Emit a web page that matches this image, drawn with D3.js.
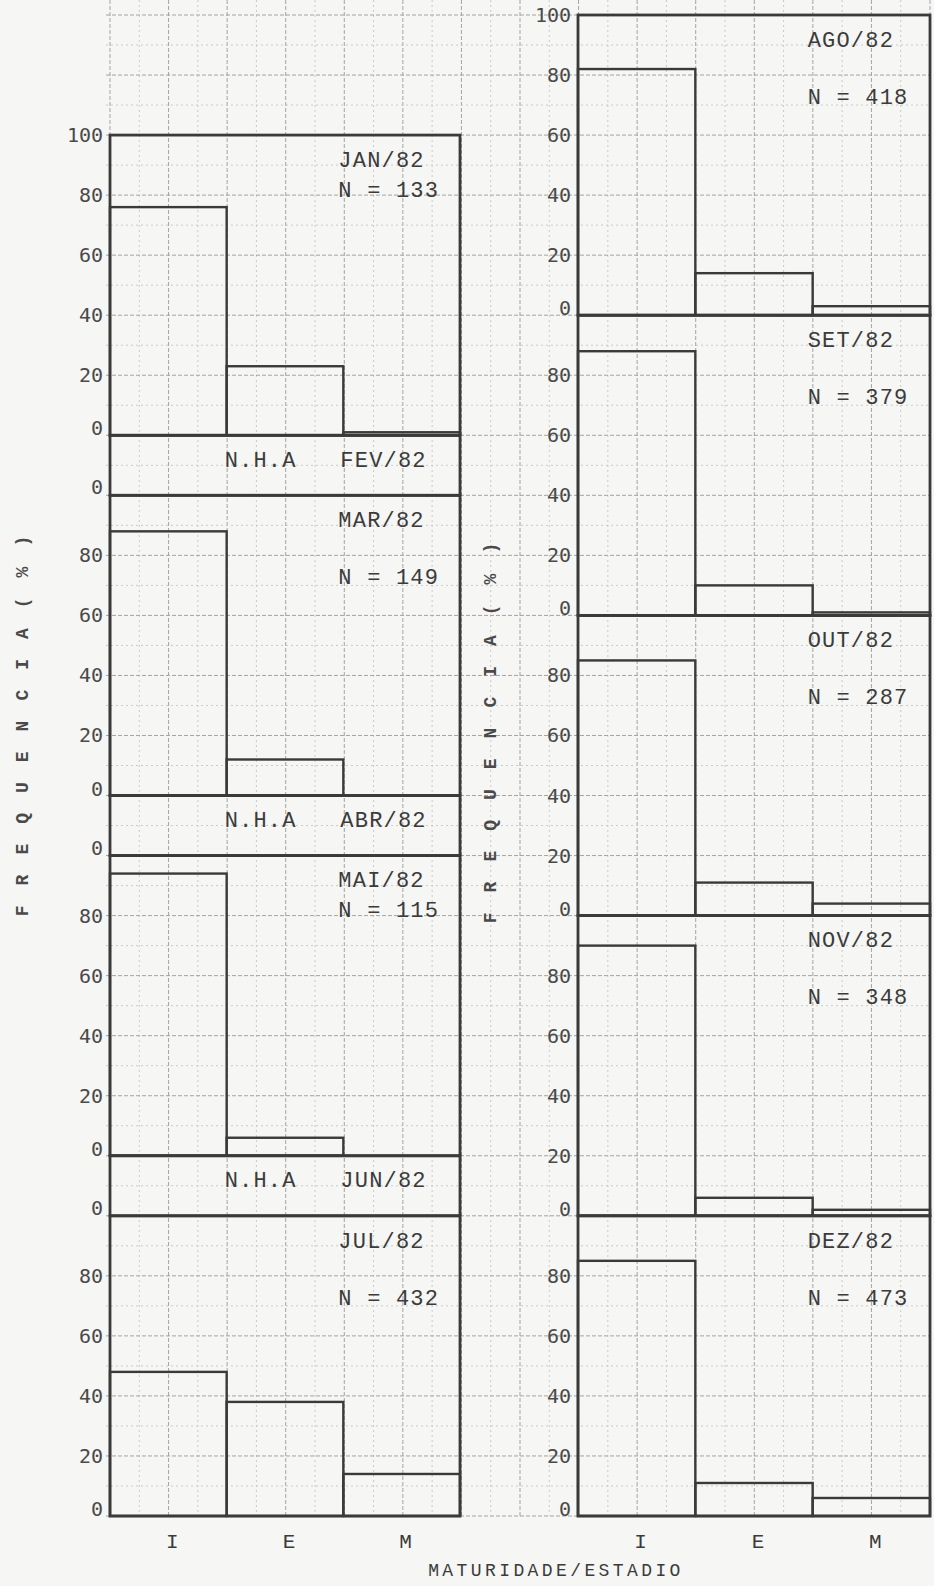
<!DOCTYPE html>
<html>
<head>
<meta charset="utf-8">
<script src="https://cdn.jsdelivr.net/npm/d3@7"></script>
<style>
  body { margin: 0; background: #f6f6f4; }
  svg { display: block; }
  text { font-family: "Liberation Mono", "DejaVu Sans Mono", monospace; fill: #3b3b3b; }
</style>
</head>
<body>
<svg id="chart"></svg>
<script>
// Frequencia (%) dos estadios de maturidade por mes, 1982
const months = ["JAN/82", "FEV/82", "MAR/82", "ABR/82", "MAI/82", "JUN/82",
                "JUL/82", "AGO/82", "SET/82", "OUT/82", "NOV/82", "DEZ/82"];
const nSample = [133, null, 149, null, 115, null, 432, 418, 379, 287, 348, 473];
const stageI  = [76, null, 88, null, 94, null, 48, 82, 88, 85, 90, 85];
const stageE  = [23, null, 12, null,  6, null, 38, 14, 10, 11,  6, 11];
const stageM  = [ 1, null,  0, null,  0, null, 14,  3,  1,  4,  2,  6];
const stages  = ["I", "E", "M"];
const yTicks  = [0, 20, 40, 60, 80, 100];
const noSample = "N.H.A";
const yTitle = "FREQUENCIA(%)";
const xTitle = "MATURIDADE/ESTADIO";
// months whose N label sits closer to the title
const tightLabel = ["JAN/82", "MAI/82"];

const series = [stageI, stageE, stageM];

let width = 934;
let height = 1586;
let ink = '#3a3a3a';

let svg = d3.select('#chart')
    .attr('width', width)
    .attr('height', height);

// the whole sheet is 500 "units" tall, 3px each
let page = d3.scaleLinear().domain([0, 500]).range([15, 1516]);
let colX = [[110, 460], [578, 930]];
let columns = [months.slice(0, 7), months.slice(7)];

// graph paper behind the charts
let paperX = d3.scaleLinear().domain([0, 28]).range([110, 930]);
let paper = svg.append('g').attr('class', 'paper');

paper.selectAll('line.v')
    .data(d3.range(0, 29))
  .enter().append('line')
    .attr('class', 'v')
    .attr('x1', d => paperX(d)).attr('x2', d => paperX(d))
    .attr('y1', 0).attr('y2', page(500))
    .style('stroke', d => d % 2 === 0 ? '#a4a4a4' : '#cacaca')
    .style('stroke-dasharray', d => d % 2 === 0 ? '4,2' : '2,3')
    .style('stroke-width', '1px');

paper.selectAll('line.h')
    .data(d3.range(0, 51))
  .enter().append('line')
    .attr('class', 'h')
    .attr('x1', 106).attr('x2', 930)
    .attr('y1', d => page(d * 10)).attr('y2', d => page(d * 10))
    .style('stroke', d => d % 2 === 0 ? '#a4a4a4' : '#cacaca')
    .style('stroke-dasharray', d => d % 2 === 0 ? '4,2' : '2,3')
    .style('stroke-width', '1px');

columns.forEach((col, c) => {
  let x = d3.scaleBand()
      .domain(stages)
      .range(colX[c]);

  let heights = col.map(m => nSample[months.indexOf(m)] == null ? 20 : 100);
  let offset = 500 - d3.sum(heights);

  col.forEach((m, k) => {
    let idx = months.indexOf(m);
    let h = heights[k];
    let top = page(offset);
    let bottom = page(offset + h);
    let g = svg.append('g').attr('class', 'panel');

    if (nSample[idx] == null) {
      // month without sampling
      g.append('text')
          .attr('x', x('E') - 2)
          .attr('y', (top + bottom) / 2 - 6)
          .attr('dy', '0.35em')
          .style('font-size', '22px')
          .style('letter-spacing', '1.2px')
          .text(noSample);

      g.append('text')
          .attr('x', x('M') - 3)
          .attr('y', (top + bottom) / 2 - 6)
          .attr('dy', '0.35em')
          .style('font-size', '22px')
          .style('letter-spacing', '1.2px')
          .text(m);

      g.append('text')
          .attr('x', colX[c][0] - 7)
          .attr('y', bottom - 8)
          .attr('dy', '0.35em')
          .attr('text-anchor', 'end')
          .style('font-family', '"DejaVu Sans Mono", monospace')
          .style('font-size', '20px')
          .style('fill', '#4a4a4a')
          .text('0');
    } else {
      let y = d3.scaleLinear()
          .domain([0, 100])
          .range([bottom, top]);

      let bars = stages.map((s, j) => ({ stage: s, value: series[j][idx] }));

      g.selectAll('rect.bar')
          .data(bars)
        .enter().append('rect')
          .attr('class', 'bar')
          .attr('x', d => x(d.stage))
          .attr('width', x.bandwidth())
          .attr('y', d => y(d.value))
          .attr('height', d => y(0) - y(d.value))
          .style('fill', 'none')
          .style('stroke', ink)
          .style('stroke-width', '2.4px');

      let ticks = k === 0 ? yTicks : yTicks.filter(t => t < 100);

      g.selectAll('text.tick')
          .data(ticks)
        .enter().append('text')
          .attr('class', 'tick')
          .attr('x', colX[c][0] - 7)
          .attr('y', d => y(d) - (d === 0 ? 7 : 0))
          .attr('dy', '0.35em')
          .attr('text-anchor', 'end')
          .style('font-family', '"DejaVu Sans Mono", monospace')
          .style('font-size', '20px')
          .style('fill', '#4a4a4a')
          .text(d => d);

      g.append('text')
          .attr('x', x('M') - 5)
          .attr('y', y(92))
          .attr('dy', '0.35em')
          .style('font-size', '22px')
          .style('letter-spacing', '1.2px')
          .text(m);

      g.append('text')
          .attr('x', x('M') - 5)
          .attr('y', y(tightLabel.includes(m) ? 82 : 73))
          .attr('dy', '0.35em')
          .style('font-size', '22px')
          .style('letter-spacing', '1.2px')
          .text(`N = ${nSample[idx]}`);
    }

    g.append('rect')
        .attr('x', colX[c][0])
        .attr('y', top)
        .attr('width', colX[c][1] - colX[c][0])
        .attr('height', bottom - top)
        .style('fill', 'none')
        .style('stroke', ink)
        .style('stroke-width', '2.8px');

    offset += h;
  });

  // stage labels under each column
  svg.selectAll(null)
      .data(stages)
    .enter().append('text')
      .attr('x', d => x(d) + x.bandwidth() / 2 + 4)
      .attr('y', page(500) + 25)
      .attr('dy', '0.35em')
      .attr('text-anchor', 'middle')
      .style('font-size', '21px')
      .text(d => d);
});

// axis titles
[[22, 716], [490, 723]].forEach(([tx, ty]) => {
  svg.append('text')
      .attr('transform', `translate(${tx},${ty}) rotate(-90)`)
      .attr('text-anchor', 'middle')
      .attr('dy', '0.35em')
      .style('font-size', '18px')
      .style('font-weight', 'bold')
      .style('letter-spacing', '20px')
      .style('fill', '#4a4a4a')
      .text(yTitle);
});

svg.append('text')
    .attr('x', 556)
    .attr('y', 1570)
    .attr('dy', '0.35em')
    .attr('text-anchor', 'middle')
    .style('font-size', '18px')
    .style('letter-spacing', '3.4px')
    .text(xTitle);
</script>
</body>
</html>
